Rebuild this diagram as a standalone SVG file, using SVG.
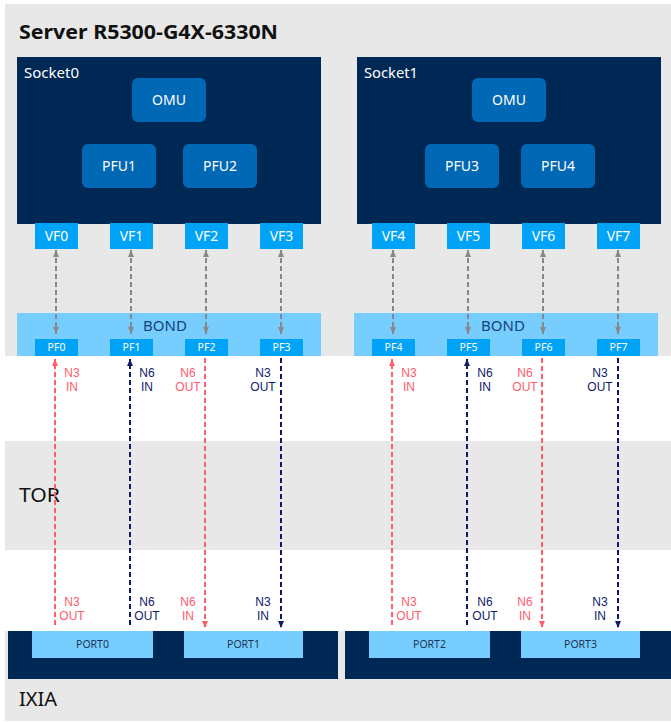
<svg xmlns="http://www.w3.org/2000/svg" width="671" height="722" viewBox="0 0 671 722">
<style>
text{font-family:"Noto Sans","Open Sans","DejaVu Sans",sans-serif}
.band{fill:#e8e8e8}
.sock{fill:#002855}
.fu{fill:#0068b5}
.fut{fill:#ffffff;font-size:14px;text-anchor:middle}
.vf{fill:#00a3f6}
.vft{fill:#ffffff;font-size:14px;text-anchor:middle}
.pft{fill:#ffffff;font-size:10.5px;text-anchor:middle}
.bond{fill:#78cdff}
.bondt{fill:#12437a;font-size:15px;text-anchor:middle}
.port{fill:#78cdff}
.portt{fill:#1a3656;font-size:10.5px;text-anchor:middle}
text.lbl{font-family:"Liberation Sans","Arimo",sans-serif;font-size:12px;text-anchor:middle}
.red{fill:#ff5c6c}
.navy{fill:#101a6a}
.big{fill:#111111;font-size:20px}
.gl{stroke:#888888;stroke-width:2;stroke-dasharray:5 3;fill:none}
.rl{stroke:#ff5c6c;stroke-width:2;stroke-dasharray:5 3;fill:none}
.nl{stroke:#101a6a;stroke-width:2;stroke-dasharray:5 3;fill:none}
</style>
<defs>
<marker id="ag" markerUnits="userSpaceOnUse" markerWidth="8" markerHeight="8" refX="7" refY="3" orient="auto-start-reverse"><path d="M0,0 L7,3 L0,6 z" fill="#888888"/></marker>
<marker id="ar" markerUnits="userSpaceOnUse" markerWidth="8" markerHeight="8" refX="7" refY="3" orient="auto"><path d="M0,0 L7,3 L0,6 z" fill="#ff5c6c"/></marker>
<marker id="an" markerUnits="userSpaceOnUse" markerWidth="8" markerHeight="8" refX="7" refY="3" orient="auto"><path d="M0,0 L7,3 L0,6 z" fill="#101a6a"/></marker>
</defs>

<g id="server">
<rect class="band" x="5" y="4" width="666" height="352"/>
<text x="19" y="39" textLength="259" lengthAdjust="spacingAndGlyphs" style="font-size:19.5px;font-weight:bold;fill:#111111">Server R5300-G4X-6330N</text>
</g>
<g id="tor">
<rect class="band" x="5" y="441" width="666" height="109"/>
<text class="big" x="19" y="502" textLength="41" lengthAdjust="spacingAndGlyphs">TOR</text>
</g>
<g id="ixia">
<rect class="band" x="5" y="631" width="666" height="90"/>
<rect class="sock" x="8" y="631" width="330" height="48"/>
<rect class="sock" x="345" y="631" width="326" height="48"/>
<text class="big" x="19" y="706">IXIA</text>
</g>

<g id="socket0">
<rect class="sock" x="17" y="57" width="304" height="167"/>
<text x="24" y="78" textLength="55" lengthAdjust="spacingAndGlyphs" style="font-size:13.5px;fill:#ffffff">Socket0</text>
</g>
<g id="socket1">
<rect class="sock" x="357" y="57" width="304" height="167"/>
<text x="364" y="78" textLength="54" lengthAdjust="spacingAndGlyphs" style="font-size:13.5px;fill:#ffffff">Socket1</text>
</g>

<g id="omu0"><rect class="fu" x="132" y="78" width="74" height="44" rx="6"/><text class="fut" x="169" y="105">OMU</text></g>
<g id="pfu1"><rect class="fu" x="82" y="144" width="74" height="44" rx="6"/><text class="fut" x="119" y="171">PFU1</text></g>
<g id="pfu2"><rect class="fu" x="183" y="144" width="74" height="44" rx="6"/><text class="fut" x="220" y="171">PFU2</text></g>
<g id="omu1"><rect class="fu" x="472" y="78" width="74" height="44" rx="6"/><text class="fut" x="509" y="105">OMU</text></g>
<g id="pfu3"><rect class="fu" x="425" y="144" width="74" height="44" rx="6"/><text class="fut" x="462" y="171">PFU3</text></g>
<g id="pfu4"><rect class="fu" x="521" y="144" width="74" height="44" rx="6"/><text class="fut" x="558" y="171">PFU4</text></g>

<g id="vf0"><rect class="vf" x="35" y="223" width="43" height="26"/><text class="vft" x="56.5" y="241">VF0</text></g>
<g id="vf1"><rect class="vf" x="110" y="223" width="43" height="26"/><text class="vft" x="131.5" y="241">VF1</text></g>
<g id="vf2"><rect class="vf" x="185" y="223" width="43" height="26"/><text class="vft" x="206.5" y="241">VF2</text></g>
<g id="vf3"><rect class="vf" x="260" y="223" width="43" height="26"/><text class="vft" x="281.5" y="241">VF3</text></g>
<g id="vf4"><rect class="vf" x="372" y="223" width="43" height="26"/><text class="vft" x="393.5" y="241">VF4</text></g>
<g id="vf5"><rect class="vf" x="447" y="223" width="43" height="26"/><text class="vft" x="468.5" y="241">VF5</text></g>
<g id="vf6"><rect class="vf" x="522" y="223" width="43" height="26"/><text class="vft" x="543.5" y="241">VF6</text></g>
<g id="vf7"><rect class="vf" x="597" y="223" width="43" height="26"/><text class="vft" x="618.5" y="241">VF7</text></g>

<g id="bond0"><rect class="bond" x="17" y="313" width="304" height="43"/><text class="bondt" x="165" y="331">BOND</text></g>
<g id="bond1"><rect class="bond" x="354" y="313" width="304" height="43"/><text class="bondt" x="503" y="331">BOND</text></g>

<g id="pf0"><rect class="vf" x="35" y="339" width="43" height="17"/><text class="pft" x="56.5" y="351">PF0</text></g>
<g id="pf1"><rect class="vf" x="110" y="339" width="43" height="17"/><text class="pft" x="131.5" y="351">PF1</text></g>
<g id="pf2"><rect class="vf" x="185" y="339" width="43" height="17"/><text class="pft" x="206.5" y="351">PF2</text></g>
<g id="pf3"><rect class="vf" x="260" y="339" width="43" height="17"/><text class="pft" x="281.5" y="351">PF3</text></g>
<g id="pf4"><rect class="vf" x="372" y="339" width="43" height="17"/><text class="pft" x="393.5" y="351">PF4</text></g>
<g id="pf5"><rect class="vf" x="447" y="339" width="43" height="17"/><text class="pft" x="468.5" y="351">PF5</text></g>
<g id="pf6"><rect class="vf" x="522" y="339" width="43" height="17"/><text class="pft" x="543.5" y="351">PF6</text></g>
<g id="pf7"><rect class="vf" x="597" y="339" width="43" height="17"/><text class="pft" x="618.5" y="351">PF7</text></g>

<g id="port0"><rect class="port" x="32" y="631" width="121" height="27"/><text class="portt" x="92.5" y="648">PORT0</text></g>
<g id="port1"><rect class="port" x="184" y="631" width="119" height="27"/><text class="portt" x="243.5" y="648">PORT1</text></g>
<g id="port2"><rect class="port" x="369" y="631" width="121" height="27"/><text class="portt" x="429.5" y="648">PORT2</text></g>
<g id="port3"><rect class="port" x="521" y="631" width="119" height="27"/><text class="portt" x="580.5" y="648">PORT3</text></g>

<g id="connectors">
<line class="gl" x1="56" y1="250" x2="56" y2="334" marker-start="url(#ag)" marker-end="url(#ag)"/>
<line class="gl" x1="131" y1="250" x2="131" y2="334" marker-start="url(#ag)" marker-end="url(#ag)"/>
<line class="gl" x1="206" y1="250" x2="206" y2="334" marker-start="url(#ag)" marker-end="url(#ag)"/>
<line class="gl" x1="281" y1="250" x2="281" y2="334" marker-start="url(#ag)" marker-end="url(#ag)"/>
<line class="gl" x1="393" y1="250" x2="393" y2="334" marker-start="url(#ag)" marker-end="url(#ag)"/>
<line class="gl" x1="468" y1="250" x2="468" y2="334" marker-start="url(#ag)" marker-end="url(#ag)"/>
<line class="gl" x1="543" y1="250" x2="543" y2="334" marker-start="url(#ag)" marker-end="url(#ag)"/>
<line class="gl" x1="618" y1="250" x2="618" y2="334" marker-start="url(#ag)" marker-end="url(#ag)"/>

<line class="rl" x1="55" y1="625" x2="55" y2="359" marker-end="url(#ar)"/>
<line class="nl" x1="130" y1="625" x2="130" y2="359" marker-end="url(#an)"/>
<line class="rl" x1="205" y1="358" x2="205" y2="628" marker-end="url(#ar)"/>
<line class="nl" x1="281" y1="358" x2="281" y2="628" marker-end="url(#an)"/>
<line class="rl" x1="392" y1="625" x2="392" y2="359" marker-end="url(#ar)"/>
<line class="nl" x1="467" y1="625" x2="467" y2="359" marker-end="url(#an)"/>
<line class="rl" x1="542" y1="358" x2="542" y2="628" marker-end="url(#ar)"/>
<line class="nl" x1="618" y1="358" x2="618" y2="628" marker-end="url(#an)"/>

<text class="lbl red" x="72" y="377">N3<tspan x="72" dy="14">IN</tspan></text>
<text class="lbl navy" x="147" y="377">N6<tspan x="147" dy="14">IN</tspan></text>
<text class="lbl red" x="188" y="377">N6<tspan x="188" dy="14">OUT</tspan></text>
<text class="lbl navy" x="263" y="377">N3<tspan x="263" dy="14">OUT</tspan></text>
<text class="lbl red" x="409" y="377">N3<tspan x="409" dy="14">IN</tspan></text>
<text class="lbl navy" x="485" y="377">N6<tspan x="485" dy="14">IN</tspan></text>
<text class="lbl red" x="525" y="377">N6<tspan x="525" dy="14">OUT</tspan></text>
<text class="lbl navy" x="600" y="377">N3<tspan x="600" dy="14">OUT</tspan></text>

<text class="lbl red" x="72" y="606">N3<tspan x="72" dy="14">OUT</tspan></text>
<text class="lbl navy" x="147" y="606">N6<tspan x="147" dy="14">OUT</tspan></text>
<text class="lbl red" x="188" y="606">N6<tspan x="188" dy="14">IN</tspan></text>
<text class="lbl navy" x="263" y="606">N3<tspan x="263" dy="14">IN</tspan></text>
<text class="lbl red" x="409" y="606">N3<tspan x="409" dy="14">OUT</tspan></text>
<text class="lbl navy" x="485" y="606">N6<tspan x="485" dy="14">OUT</tspan></text>
<text class="lbl red" x="525" y="606">N6<tspan x="525" dy="14">IN</tspan></text>
<text class="lbl navy" x="600" y="606">N3<tspan x="600" dy="14">IN</tspan></text>
</g>
</svg>
